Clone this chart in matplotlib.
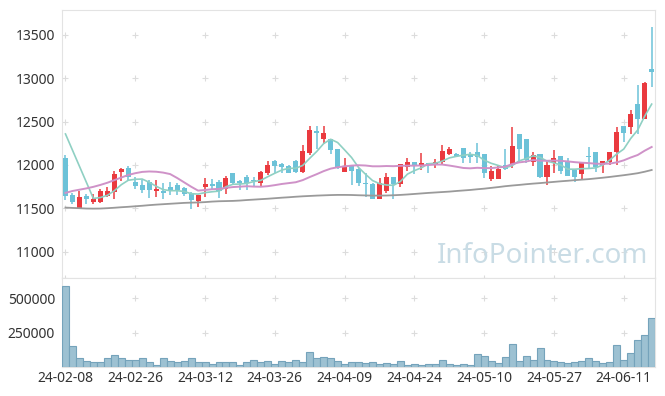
import numpy as np
import pandas as pd
import matplotlib
matplotlib.use("Agg")
import matplotlib.pyplot as plt

plt.rcParams['font.family'] = ['Noto Sans', 'DejaVu Sans']

# trading days shown on the x axis (every 10th candle gets a label)
tick_labels = ["24-02-08", "24-02-26", "24-03-12", "24-03-26", "24-04-09",
               "24-04-24", "24-05-10", "24-05-27", "24-06-11"]

opens = [12084, 11655, 11501, 11643, 11574, 11574, 11647, 11693, 11920, 11969,
         11804, 11766, 11808, 11701, 11705, 11743, 11770, 11735, 11682, 11590,
         11747, 11781, 11805, 11720, 11912, 11816, 11862, 11828, 11797, 11912,
         12046, 12012, 11989, 12046, 11920, 12135, 12388, 12296, 12296, 12181,
         11920, 11993, 11954, 11797, 11781, 11612, 11704, 11858, 11781, 11981,
         12031, 12000, 12027, 12016, 12035, 12127, 12127, 12196, 12127, 12146,
         12127, 11839, 11839, 12000, 11996, 12357, 12300, 12039, 12127, 11866,
         12019, 12104, 12039, 11943, 11897, 12096, 12146, 12000, 12030, 12145,
         12450, 12442, 12703, 12532, 13104]
highs = [12115, 11680, 11700, 11666, 11662, 11724, 11743, 11927, 11969, 11992,
         11866, 11827, 11827, 11827, 11789, 11808, 11789, 11751, 11693, 11655,
         11847, 11835, 11828, 11874, 11912, 11828, 11881, 11866, 11935, 12050,
         12058, 12020, 12000, 12058, 12231, 12453, 12453, 12453, 12296, 12181,
         12077, 12000, 11962, 11912, 11797, 11847, 11912, 11858, 12008, 12077,
         12031, 12135, 12027, 12066, 12227, 12212, 12142, 12196, 12154, 12250,
         12127, 11989, 11996, 12181, 12434, 12357, 12300, 12154, 12127, 12050,
         12173, 12104, 12077, 11943, 12031, 12210, 12146, 12046, 12146, 12434,
         12450, 12634, 12922, 12955, 13586]
lows = [11600, 11551, 11500, 11551, 11551, 11559, 11636, 11612, 11812, 11827,
        11720, 11674, 11616, 11635, 11612, 11655, 11655, 11643, 11497, 11513,
        11630, 11712, 11616, 11666, 11781, 11712, 11712, 11751, 11759, 11885,
        11904, 11904, 11904, 11904, 11904, 12116, 12181, 12242, 12127, 11950,
        11916, 11770, 11758, 11628, 11612, 11612, 11681, 11612, 11743, 11935,
        11897, 11943, 11912, 11962, 11996, 12116, 12096, 12019, 12027, 12027,
        11847, 11820, 11839, 11943, 11962, 12020, 12020, 11993, 11847, 11770,
        11904, 11897, 11877, 11805, 11839, 11970, 11923, 11904, 12000, 12000,
        12268, 12360, 12360, 12532, 12895]
closes = [11646, 11578, 11628, 11609, 11609, 11701, 11701, 11897, 11954, 11866,
          11758, 11712, 11712, 11724, 11674, 11697, 11712, 11666, 11597, 11651,
          11781, 11760, 11705, 11851, 11789, 11797, 11797, 11812, 11920, 12000,
          11993, 11981, 11912, 11924, 12162, 12404, 12373, 12369, 12173, 11973,
          11977, 11935, 11797, 11781, 11612, 11797, 11858, 11777, 12008, 12031,
          12000, 12019, 12012, 12035, 12158, 12181, 12108, 12077, 12089, 12096,
          11904, 11931, 11954, 11950, 12219, 12181, 12058, 12116, 11866, 12000,
          12077, 11935, 11877, 11866, 12031, 12088, 11973, 12046, 12146, 12378,
          12372, 12585, 12532, 12940, 13075]
volumes = [590000, 156000, 62000, 47000, 40000, 40000, 67000, 88000, 67000, 54000,
           54000, 67000, 40000, 18000, 67000, 47000, 40000, 47000, 67000, 33000,
           40000, 25000, 40000, 33000, 33000, 16000, 40000, 54000, 33000, 47000,
           25000, 47000, 33000, 54000, 40000, 112000, 62000, 76000, 67000, 47000,
           23000, 38000, 38000, 30000, 38000, 23000, 30000, 23000, 45000, 16000,
           23000, 16000, 23000, 23000, 52000, 23000, 16000, 23000, 16000, 95000,
           81000, 45000, 30000, 74000, 168000, 45000, 81000, 52000, 135000, 54000,
           45000, 38000, 30000, 38000, 45000, 67000, 45000, 30000, 38000, 161000,
           52000, 103000, 197000, 233000, 356000]

ma5_first = 12357
ma20_head = [11678, 11700, 11715, 11730, 11748, 11770, 11795, 11825, 11855, 11885,
             11905, 11920, 11925, 11922, 11912, 11895, 11850, 11800, 11750]
ma_long = [11509, 11505, 11502, 11498, 11497, 11498, 11502, 11507, 11513, 11518,
           11524, 11530, 11537, 11543, 11548, 11553, 11558, 11563, 11566, 11568,
           11572, 11578, 11582, 11584, 11586, 11590, 11596, 11601, 11606, 11611,
           11617, 11623, 11628, 11634, 11639, 11643, 11647, 11650, 11653, 11655,
           11655, 11654, 11651, 11649, 11647, 11647, 11648, 11651, 11655, 11660,
           11666, 11672, 11678, 11683, 11688, 11693, 11700, 11706, 11712, 11720,
           11727, 11736, 11745, 11755, 11763, 11770, 11778, 11785, 11791, 11798,
           11805, 11812, 11818, 11825, 11831, 11837, 11845, 11853, 11862, 11872,
           11882, 11893, 11905, 11922, 11942]

df = pd.DataFrame({"open": opens, "high": highs, "low": lows, "close": closes, "vol": volumes})
x = np.arange(len(df))

ma5 = df["close"].rolling(5).mean()
ma5.iloc[0] = ma5_first
ma20 = df["close"].rolling(20).mean()
ma20.iloc[:len(ma20_head)] = ma20_head

up_col = "#ea3a3f"
dn_col = "#6cc2d8"
grid_col = "#dcdcdc"
spine_col = "#e3e3e3"

fig = plt.figure(figsize=(6.65, 3.96), dpi=100)
ax = fig.add_axes([0.0932, 0.298, 0.892, 0.677])
axv = fig.add_axes([0.0932, 0.0732, 0.892, 0.225], sharex=ax)

up = df["close"] >= df["open"]
colors = np.where(up, up_col, dn_col)
body_lo = np.minimum(df["open"], df["close"])
body_h = np.maximum(np.abs(df["close"] - df["open"]), 12)

ax.vlines(x, df["low"], df["high"], colors=colors, linewidth=1.1, zorder=3)
ax.bar(x, body_h, bottom=body_lo, width=0.72, color=colors, zorder=4)

valid = ~ma5.isna()
ax.plot(x[valid], ma5[valid], color="#8fd0c3", linewidth=1.2, zorder=5)
ax.plot(x, ma20, color="#cf92c8", linewidth=1.4, zorder=5)
ax.plot(x, ma_long, color="#9a9a9a", linewidth=1.3, zorder=5)

ax.set_ylim(10698, 13786)
ax.set_xlim(-0.5, len(df) - 0.5)
yt = [11000, 11500, 12000, 12500, 13000, 13500]
ax.set_yticks(yt)
ax.set_yticklabels([str(v) for v in yt])

xt = np.arange(0, len(df), 10)
gx, gy = np.meshgrid(xt, yt + [10698])
ax.scatter(gx.ravel(), gy.ravel(), marker="+", s=18, color=grid_col, linewidths=0.8, zorder=1, clip_on=False)

ax.text(0.988, 0.082, "InfoPointer.com", transform=ax.transAxes, ha="right", va="center",
        fontsize=20, color="#c9dce5", zorder=6)

axv.bar(x, df["vol"], width=1.0, color="#9dc1d2", edgecolor="#75a3bb", linewidth=0.8, zorder=3)
axv.set_ylim(0, 648000)
vt = [250000, 500000]
axv.set_yticks(vt)
axv.set_yticklabels([str(v) for v in vt])
vgx, vgy = np.meshgrid(xt, vt)
axv.scatter(vgx.ravel(), vgy.ravel(), marker="+", s=18, color=grid_col, linewidths=0.8, zorder=1)
axv.set_xticks(xt)
axv.set_xticklabels(tick_labels)

for a in (ax, axv):
    for s in a.spines.values():
        s.set_color(spine_col)
    a.tick_params(length=0, labelsize=10, colors="#333333", pad=5)
ax.tick_params(labelbottom=False)
axv.tick_params(axis="x", pad=3)

fig.savefig("out.png", dpi=100)
